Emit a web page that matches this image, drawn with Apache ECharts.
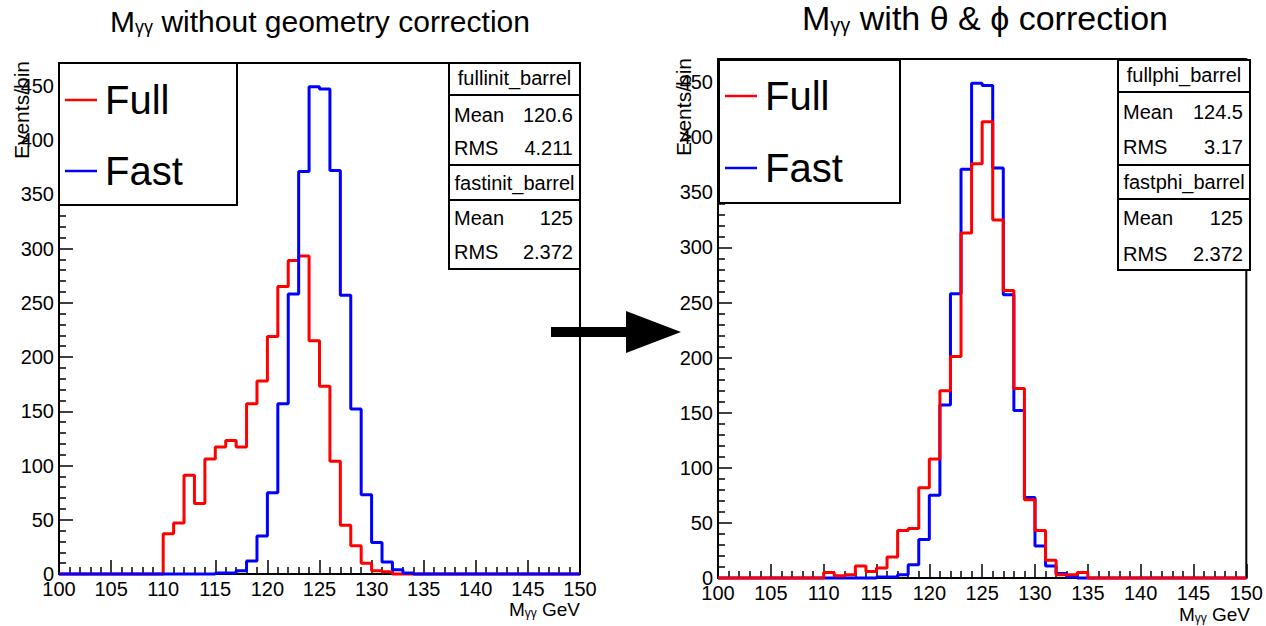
<!DOCTYPE html>
<html><head><meta charset="utf-8">
<script src="https://cdn.jsdelivr.net/npm/echarts/dist/echarts.min.js"></script>
<style>html,body{margin:0;padding:0;background:#fff}#c{width:1266px;height:626px}</style>
</head><body><div id="c"></div>
<script>
// Bin edges (1 GeV bins, 100-150 GeV)
const binEdges = [100,101,102,103,104,105,106,107,108,109,110,111,112,113,114,115,116,117,118,119,120,
  121,122,123,124,125,126,127,128,129,130,131,132,133,134,135,136,137,138,139,140,
  141,142,143,144,145,146,147,148,149,150];
// Left panel: without geometry correction
const fullInit = [0,0,0,0,0,0,0,0,0,0, 37,47,91,65,106,117,123,117,157,178, 219,265,289,293,215,173,104,45,26,10, 3,2,0,0,0,0,0,0,0,0, 0,0,0,0,0,0,0,0,0,0];
const fastInit = [0,0,0,0,0,0,0,0,0,0, 0,0,0,0,0,1,1,3,12,35, 75,157,258,371,449,447,372,257,152,73, 29,11,4,1,0,0,0,0,0,0, 0,0,0,0,0,0,0,0,0,0];
// Right panel: with theta & phi correction
const fullPhi = [0,0,0,0,0,0,0,0,0,0, 5,2,3,11,6,9,19,43,45,82, 108,170,201,313,376,414,325,261,172,71, 43,16,3,3,5,0,0,0,0,0, 0,0,0,0,0,0,0,0,0,0];
const fastPhi = [0,0,0,0,0,0,0,0,0,0, 0,0,0,0,0,1,1,3,12,35, 75,157,258,371,449,447,372,257,152,73, 29,11,4,1,0,0,0,0,0,0, 0,0,0,0,0,0,0,0,0,0];
const xTicks = [100,105,110,115,120,125,130,135,140,145,150];
const yTicks = [0,50,100,150,200,250,300,350,400,450];
const statsLeft = [
  {name:'fullinit_barrel', mean:'120.6', rms:'4.211'},
  {name:'fastinit_barrel', mean:'125', rms:'2.372'}];
const statsRight = [
  {name:'fullphi_barrel', mean:'124.5', rms:'3.17'},
  {name:'fastphi_barrel', mean:'125', rms:'2.372'}];

const FONT = '"Liberation Sans", Arial, Helvetica, sans-serif';
const RED = '#ff0000', BLUE = '#0000ff';

function stepData(vals){
  const d = vals.map((v,i)=>[binEdges[i], v]);
  d.push([binEdges[binEdges.length-1], vals[vals.length-1]]);
  return d;
}
function xAxisCfg(g){
  return {type:'value', gridIndex:g, min:xTicks[0], max:xTicks[xTicks.length-1], interval:xTicks[1]-xTicks[0],
    axisLine:{show:true, onZero:false, lineStyle:{color:'#000', width:2}},
    axisTick:{show:true, inside:true, length:14, lineStyle:{color:'#000', width:1.5}},
    minorTick:{show:true, splitNumber:5, length:7, lineStyle:{color:'#000', width:1.5}},
    axisLabel:{color:'#000', fontSize:20, fontFamily:FONT, margin:5},
    splitLine:{show:false}, minorSplitLine:{show:false}};
}
function yAxisCfg(g){
  return {type:'value', gridIndex:g, min:0, max:471, interval:yTicks[1]-yTicks[0],
    axisLine:{show:true, lineStyle:{color:'#000', width:2}},
    axisTick:{show:true, inside:true, length:14, lineStyle:{color:'#000', width:1.5}},
    minorTick:{show:true, splitNumber:5, length:7, lineStyle:{color:'#000', width:1.5}},
    axisLabel:{color:'#000', fontSize:20, fontFamily:FONT, margin:5,
      formatter:v=> yTicks.indexOf(v)>=0 ? String(v) : ''},
    splitLine:{show:false}, minorSplitLine:{show:false}};
}
function histSeries(name, vals, color, g){
  return {name, type:'line', xAxisIndex:g, yAxisIndex:g, data:stepData(vals), step:'end',
    showSymbol:false, symbol:'none', clip:false, animation:false,
    lineStyle:{color, width:3}, itemStyle:{color}};
}
const rich = (big, lh, small, sub) => ({
  m:{fontSize:big, fontFamily:FONT, fill:'#000', lineHeight:lh},
  s:{fontSize:small, fontFamily:FONT, fill:'#000', lineHeight:sub, verticalAlign:'bottom'}
});
function txt(x,y,text,size,align,extra){
  return Object.assign({type:'text', x, y, z:100, style:{text, fontSize:size, fontFamily:FONT, fill:'#000',
    align:align||'left', verticalAlign:'middle'}}, extra||{});
}
function richTxt(x,y,text,big,lh,small,sub,align){
  return {type:'text', x, y, z:100, style:{text, rich:rich(big,lh,small,sub), align:align||'center', verticalAlign:'middle'}};
}
function rect(x,y,w,h){
  return {type:'rect', z:99, shape:{x,y,width:w,height:h}, style:{fill:'#fff', stroke:'#000', lineWidth:2}};
}
function line(x1,y1,x2,y2,color,w){
  return {type:'line', z:101, shape:{x1,y1,x2,y2}, style:{stroke:color||'#000', lineWidth:w||2}};
}
function legend(x,y,w,h, yFull, yFast){
  return [rect(x,y,w,h),
    line(x+6,yFull,x+38,yFull,RED,2.5), txt(x+46,yFull,'Full',40),
    line(x+6,yFast,x+38,yFast,BLUE,2.5), txt(x+46,yFast,'Fast',40)];
}
function stats(x,w,boxes,st){
  const out=[];
  boxes.forEach((b,i)=>{
    out.push(rect(x,b.top,w,b.bottom-b.top));
    out.push(line(x,b.sep,x+w,b.sep));
    out.push(txt(x+w/2,b.head,st[i].name,20,'center'));
    out.push(txt(x+5,b.mean,'Mean',20));
    out.push(txt(x+w-7,b.mean,st[i].mean,20,'right'));
    out.push(txt(x+5,b.rms,'RMS',20));
    out.push(txt(x+w-7,b.rms,st[i].rms,20,'right'));
  });
  return out;
}

const graphics = [
  richTxt(320,21,'{m|M}{s|γγ}{m| without geometry correction}',30,30,18,10),
  richTxt(985,18,'{m|M}{s|γγ}{m| with θ & ϕ correction}',34,34,20,10),
  richTxt(580,609,'{m|M}{s|γγ}{m| GeV}',19,19,12,6,'right'),
  richTxt(1250,614,'{m|M}{s|γγ}{m| GeV}',19,19,12,6,'right'),
  txt(21,61,'Events/bin',21,'right',{rotation:Math.PI/2}),
  txt(683,58,'Events/bin',21,'right',{rotation:Math.PI/2}),
  ...legend(59,63,178,142,100,171),
  ...legend(719,60,181,143,96,168),
  ...stats(449,131,[{top:63,sep:95,bottom:165,head:78,mean:115,rms:148},{top:165,sep:200,bottom:269,head:183,mean:218,rms:252}],statsLeft),
  ...stats(1118,132,[{top:60,sep:92,bottom:165,head:75,mean:112,rms:147},{top:165,sep:199,bottom:270,head:182,mean:218,rms:254}],statsRight),
  {type:'polygon', z:102, shape:{points:[[551,327],[626,327],[626,311],[681,332],[626,353],[626,337],[551,337]]}, style:{fill:'#000'}}
];

const chart = echarts.init(document.getElementById('c'), null, {renderer:'svg'});
chart.setOption({
  animation:false,
  backgroundColor:'#fff',
  grid:[
    {left:59, top:63, width:521, height:511, show:true, borderColor:'#000', borderWidth:2, containLabel:false},
    {left:718, top:59, width:532, height:519, show:true, borderColor:'#000', borderWidth:2, containLabel:false}
  ],
  xAxis:[xAxisCfg(0), xAxisCfg(1)],
  yAxis:[yAxisCfg(0), yAxisCfg(1)],
  series:[
    histSeries('Full', fullInit, RED, 0),
    histSeries('Fast', fastInit, BLUE, 0),
    histSeries('Fast', fastPhi, BLUE, 1),
    histSeries('Full', fullPhi, RED, 1)
  ],
  graphic: graphics
});
</script></body></html>
